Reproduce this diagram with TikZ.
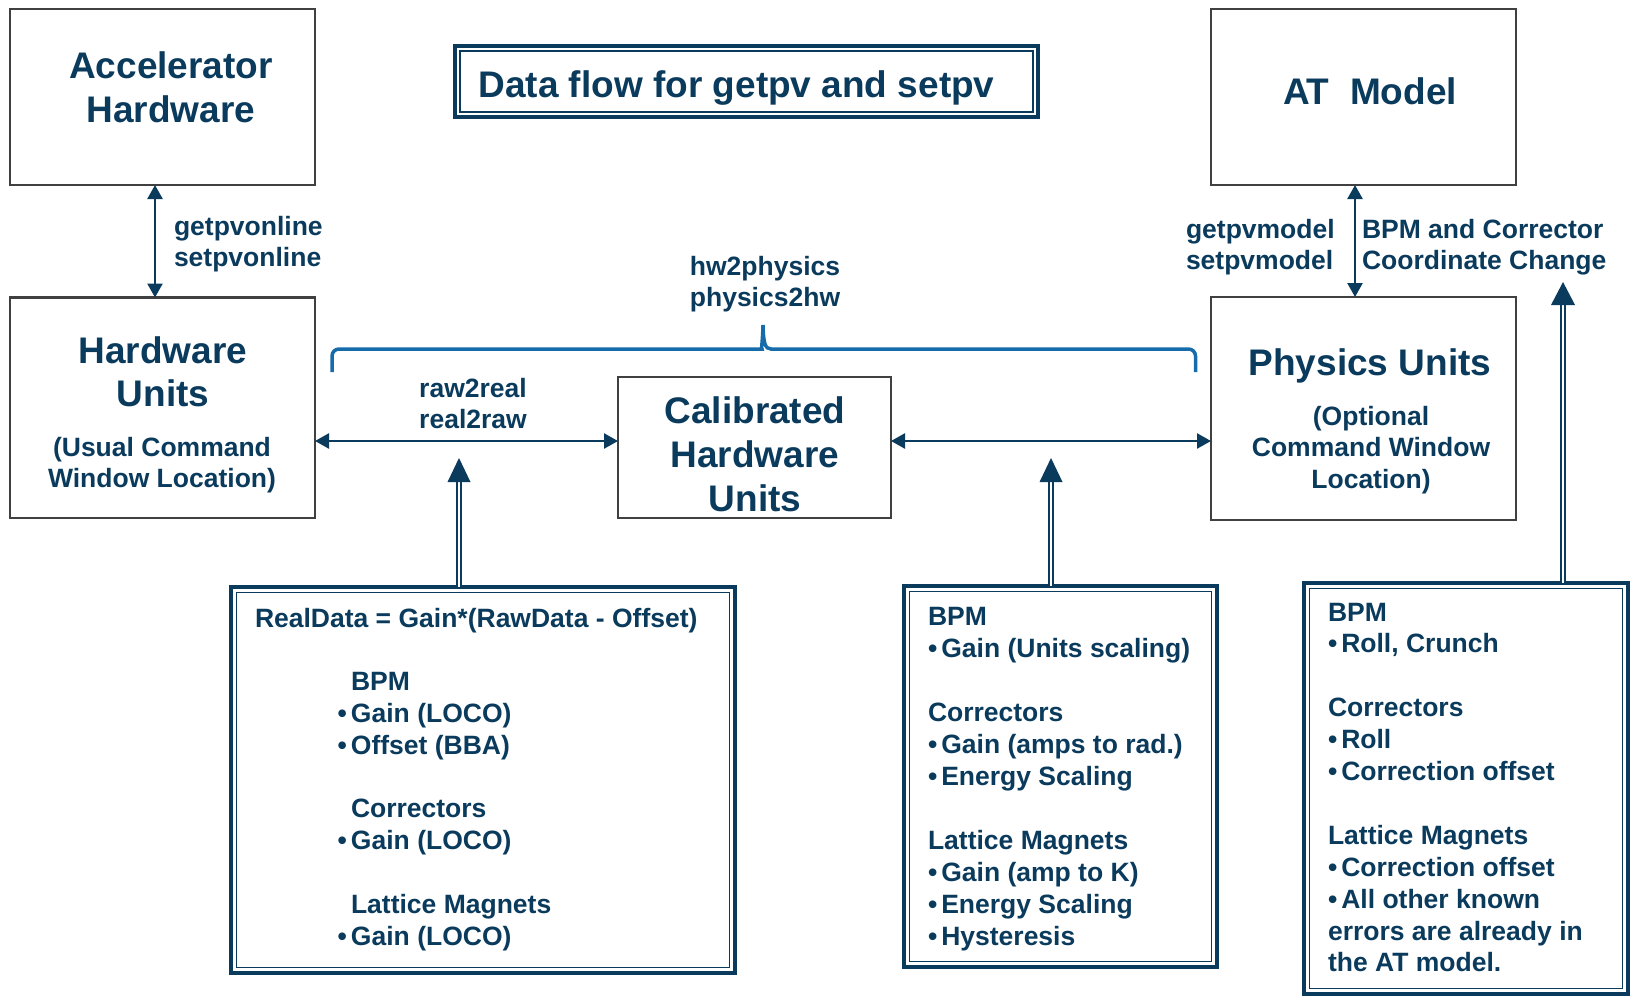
\documentclass[tikz,border=0pt]{standalone}
\usepackage{fontspec}
\setmainfont{Liberation Sans}
\usetikzlibrary{arrows.meta}
\definecolor{navy}{RGB}{10,58,92}
\definecolor{bracketblue}{RGB}{22,108,170}
\definecolor{boxgray}{RGB}{64,64,64}
\newcommand\bigf{\fontsize{37}{43.5}\selectfont\bfseries}
\newcommand\smf{\fontsize{26.5}{31.8}\selectfont\bfseries}
\newcommand\mytab[2]{\begin{tabular}[t]{@{}#1@{}}#2\end{tabular}}
\newcommand\bl{\makebox[13.3pt][l]{•}}
\newcommand\lind{\hspace*{96pt}}
\newcommand\lbul{\hspace*{82.7pt}\bl}
\begin{document}
\begin{tikzpicture}[x=1pt,y=-1pt,
  mainbox/.style={draw=boxgray, line width=2.5pt, inner sep=0pt, outer sep=0pt},
  dbox/.style={draw=navy, line width=3.5pt, inner sep=0pt, outer sep=0pt},
  inline/.style={draw=navy, line width=1.5pt},
  txt/.style={text=navy, inner sep=0pt, outer sep=0pt},
  biarr/.style={draw=navy, line width=2.5pt, {Triangle[length=14pt,width=15pt]}-{Triangle[length=14pt,width=15pt]}},
  shaft/.style={draw=navy, line width=2pt, double=white, double distance=2.5pt},
  brace/.style={draw=bracketblue, line width=3.5pt}]
\useasboundingbox (0,0) rectangle (1630,996);

% main boxes
\node[mainbox, minimum width=305pt, minimum height=176pt] (acc) at (162.5,97) {};
\node[mainbox, minimum width=305pt, minimum height=220.5pt] (hwu) at (162.5,407.75) {};
\node[mainbox, minimum width=273pt, minimum height=141pt] (cal) at (754.5,447.5) {};
\node[mainbox, minimum width=305pt, minimum height=223pt] (phy) at (1363.5,408.5) {};
\node[mainbox, minimum width=305pt, minimum height=176pt] (atm) at (1363.5,97) {};

% title box
\node[dbox, minimum width=583pt, minimum height=71pt] (tb) at (746.5,81.5) {};
\draw[inline] ([shift={(5,5)}]tb.north west) rectangle ([shift={(-5,-5)}]tb.south east);

% bottom boxes
\node[dbox, minimum width=504pt, minimum height=386pt] (lb) at (483,780) {};
\draw[inline] ([shift={(5.5,5.5)}]lb.north west) rectangle ([shift={(-5.5,-5.5)}]lb.south east);
\node[dbox, minimum width=313pt, minimum height=381pt] (mb) at (1060.5,776.5) {};
\draw[inline] ([shift={(5.5,5.5)}]mb.north west) rectangle ([shift={(-5.5,-5.5)}]mb.south east);
\node[dbox, minimum width=324pt, minimum height=411pt] (rb) at (1466,788.5) {};
\draw[inline] ([shift={(5.5,5.5)}]rb.north west) rectangle ([shift={(-5.5,-5.5)}]rb.south east);

% box texts
\node[txt, font=\bigf, anchor=base] (acct) at (171,78.5) {\mytab{c}{Accelerator\\Hardware}};
\node[txt, font=\bigf, anchor=base] (hwut) at (163,363) {\mytab{c}{Hardware\\Units}};
\node[txt, font=\smf, anchor=base] (hwus) at (162,456) {\mytab{c}{(Usual Command\\Window Location)}};
\node[txt, font=\fontsize{37}{44}\selectfont\bfseries, anchor=base] (calt) at (755,423.5) {\mytab{c}{Calibrated\\Hardware\\Units}};
\node[txt, font=\bigf, anchor=base] (phyt) at (1370,375.5) {Physics Units};
\node[txt, font=\fontsize{26.5}{31.5}\selectfont\bfseries, anchor=base] (phys) at (1371,425) {\mytab{c}{(Optional\\Command Window\\Location)}};
\node[txt, font=\bigf, anchor=base] (atmt) at (1370,104) {AT~~Model};
\node[txt, font=\bigf, anchor=base] (tbt) at (736.5,97) {Data flow for getpv and setpv};

% connector labels
\node[txt, font=\smf, anchor=base west] (lonl) at (174,235) {\mytab{l}{getpvonline\\setpvonline}};
\node[txt, font=\smf, anchor=base] (lhw) at (765,275) {\mytab{c}{hw2physics\\physics2hw}};
\node[txt, font=\smf, anchor=base] (lraw) at (473,397) {\mytab{c}{raw2real\\real2raw}};
\node[txt, font=\smf, anchor=base west] (lmod) at (1186,238) {\mytab{l}{getpvmodel\\setpvmodel}};
\node[txt, font=\smf, anchor=base west] (lbpm) at (1362,238) {\mytab{l}{BPM and Corrector\\Coordinate Change}};

% bottom box texts
\node[txt, font=\smf, anchor=base west] (lbt) at (255,627) {\mytab{l}{RealData = Gain*(RawData - Offset)\\ \\
 \lind BPM\\ \lbul Gain (LOCO)\\ \lbul Offset (BBA)\\ \\
 \lind Correctors\\ \lbul Gain (LOCO)\\ \\
 \lind Lattice Magnets\\ \lbul Gain (LOCO)}};
\node[txt, font=\fontsize{26.5}{32}\selectfont\bfseries, anchor=base west] (mbt) at (928,625) {\mytab{l}{BPM\\ \bl Gain (Units scaling)\\ \\
 Correctors\\ \bl Gain (amps to rad.)\\ \bl Energy Scaling\\ \\
 Lattice Magnets\\ \bl Gain (amp to K)\\ \bl Energy Scaling\\ \bl Hysteresis}};
\node[txt, font=\fontsize{26.5}{31.9}\selectfont\bfseries, anchor=base west] (rbt) at (1328,621) {\mytab{l}{BPM\\ \bl Roll, Crunch\\ \\
 Correctors\\ \bl Roll\\ \bl Correction offset\\ \\
 Lattice Magnets\\ \bl Correction offset\\ \bl All other known\\ errors are already in\\ the AT model.}};

% thin arrows
\coordinate (gx) at (155,0);
\coordinate (mx) at (1355,0);
\coordinate (hy) at (0,441);
\draw[biarr] (acc.south -| gx) -- (hwu.north -| gx);
\draw[biarr] (atm.south -| mx) -- (phy.north -| mx);
\draw[biarr] (hwu.east |- hy) -- (cal.west |- hy);
\draw[biarr] (cal.east |- hy) -- (phy.west |- hy);

% double-line arrows
\coordinate (t1) at (459,458);
\coordinate (t1b) at (459,480);
\draw[shaft] (lb.north -| t1) -- (t1b);
\fill[navy] (t1) -- ++(-11.5,24) -- ++(23,0) -- cycle;
\coordinate (t2) at (1051,458);
\coordinate (t2b) at (1051,480);
\draw[shaft] (mb.north -| t2) -- (t2b);
\fill[navy] (t2) -- ++(-11.5,24) -- ++(23,0) -- cycle;
\coordinate (t3) at (1563,282);
\coordinate (t3b) at (1563,303);
\draw[shaft] (rb.north -| t3) -- (t3b);
\fill[navy] (t3) -- ++(-12,23) -- ++(24,0) -- cycle;

% bracket
\draw[brace] (332,372) [rounded corners=7pt] -- (332,349) -- (755,349) [sharp corners]
  .. controls (761,349) and (762.5,343) .. (763,325)
  .. controls (763.5,343) and (765,349) .. (771,349)
  [rounded corners=7pt] -- (1195.5,349) -- (1195.5,372);
\end{tikzpicture}
\end{document}
